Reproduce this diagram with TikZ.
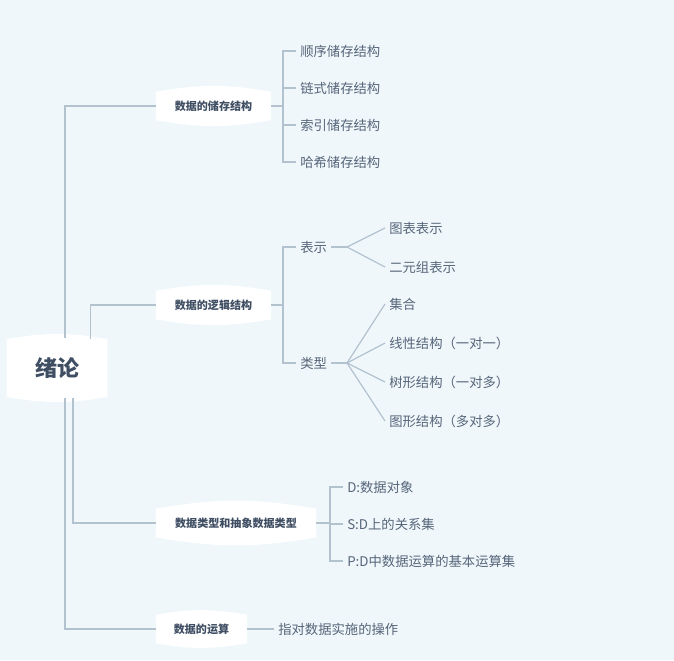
\documentclass[tikz,border=0pt]{standalone}
\usepackage{fontspec}
\setmainfont{Noto Sans CJK SC}
\usetikzlibrary{backgrounds}
\definecolor{bg}{HTML}{EFF7FA}
\definecolor{linkc}{HTML}{B3C2CF}
\definecolor{txtc}{HTML}{3F4E63}
\definecolor{leafc}{HTML}{56657A}

\tikzset{
  link/.style={draw=linkc, line width=0.9pt},
  blob/.style={text=txtc, font=\bfseries\fontsize{8.3}{9}\selectfont, inner sep=0pt, minimum height=27pt},
  leaf/.style={text=leafc, font=\fontsize{10}{12}\selectfont, anchor=west, inner sep=3pt},
}

\begin{document}
\begin{tikzpicture}[x=0.75pt, y=-0.75pt]
    \useasboundingbox (0,0) rectangle (674,660);

    % root and main branches
    \node[blob, font=\bfseries\fontsize{16.5}{18}\selectfont, minimum width=75pt, minimum height=49pt] (root) at (57,368) {绪论};
    \node[blob, minimum width=86pt] (store) at (213.5,106) {数据的储存结构};
    \node[blob, minimum width=86pt] (logic) at (213.5,305) {数据的逻辑结构};
    \node[blob, minimum width=120pt] (type) at (236,523) {数据类型和抽象数据类型};
    \node[blob, minimum width=68pt] (oper) at (201.5,629) {数据的运算};

    % white backgrounds
    \begin{scope}[on background layer]
      \fill[bg] (0,0) rectangle (674,660);
      \foreach \n in {root,store,logic,type,oper}
        \fill[white] ([yshift=-3pt]\n.north west) to[bend left=10] ([yshift=-3pt]\n.north east)
          -- ([yshift=3pt]\n.south east) to[bend left=10] ([yshift=3pt]\n.south west) -- cycle;
    \end{scope}

    \draw[link] ([xshift=6pt,yshift=-2pt]root.north) |- (store.west);
    \draw[link] ([xshift=25pt,yshift=-3pt]root.north) |- (logic.west);
    \draw[link] ([xshift=12pt,yshift=2pt]root.south) |- (type.west);
    \draw[link] ([xshift=6pt,yshift=2pt]root.south) |- (oper.west);

    % storage
    \node[leaf] (s1) at (296,51) {顺序储存结构};
    \node[leaf] (s2) at (296,88) {链式储存结构};
    \node[leaf] (s3) at (296,125) {索引储存结构};
    \node[leaf] (s4) at (296,162) {哈希储存结构};
    \coordinate (ts) at (283,106);
    \draw[link] (store.east) -- (ts);
    \foreach \l in {s1,s2,s3,s4}
      \draw[link] (ts) |- (\l.west);

    % logic
    \node[leaf] (rep) at (296,247) {表示};
    \node[leaf] (kind) at (296,363) {类型};
    \coordinate (tl) at (283,305);
    \draw[link] (logic.east) -- (tl);
    \foreach \l in {rep,kind}
      \draw[link] (tl) |- (\l.west);

    \node[leaf] (r1) at (385,228) {图表表示};
    \node[leaf] (r2) at (385,267) {二元组表示};
    \coordinate (fr) at (347,247);
    \draw[link] (rep.east) -- (fr);
    \foreach \l in {r1,r2}
      \draw[link] (fr) -- (\l.west);

    \node[leaf] (k1) at (385,304) {集合};
    \node[leaf] (k2) at (385,343) {线性结构（一对一）};
    \node[leaf] (k3) at (385,382) {树形结构（一对多）};
    \node[leaf] (k4) at (385,421) {图形结构（多对多）};
    \coordinate (fk) at (347,363);
    \draw[link] (kind.east) -- (fk);
    \foreach \l in {k1,k2,k3,k4}
      \draw[link] (fk) -- (\l.west);

    % types
    \node[leaf] (t1) at (343,487) {D:数据对象};
    \node[leaf] (t2) at (343,524) {S:D上的关系集};
    \node[leaf] (t3) at (343,561) {P:D中数据运算的基本运算集};
    \coordinate (tt) at (330,523);
    \draw[link] (type.east) -- (tt);
    \foreach \l in {t1,t2,t3}
      \draw[link] (tt) |- (\l.west);

    % operations
    \node[leaf] (o1) at (274,629) {指对数据实施的操作};
    \draw[link] (oper.east) -- (o1.west);
\end{tikzpicture}
\end{document}
